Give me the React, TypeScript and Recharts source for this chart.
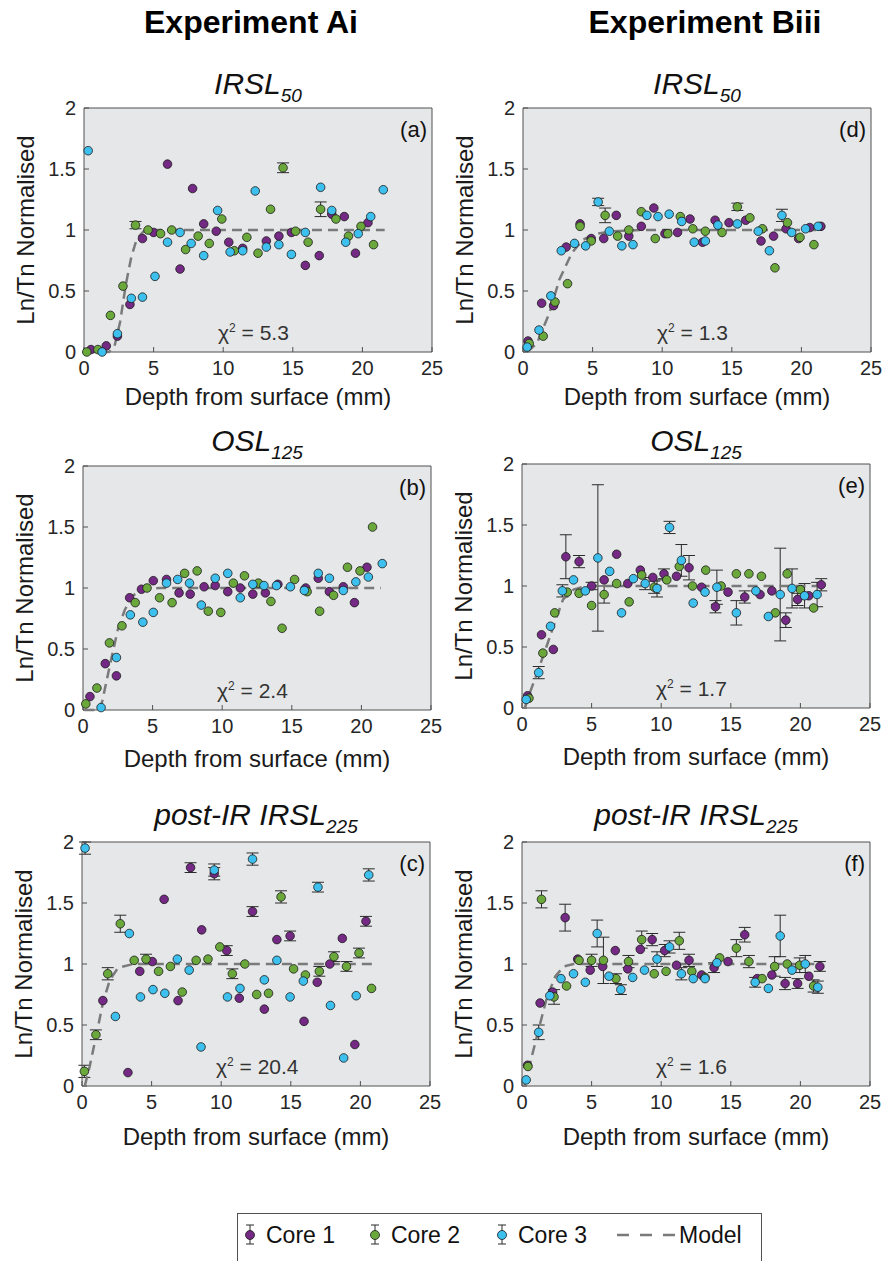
import React from "react";
import { ScatterChart, Scatter, XAxis, YAxis, CartesianGrid, ErrorBar } from "recharts";

// [depth mm, Ln/Tn normalised, error]
type Pt = [number, number, number?];

// Experiment Ai - IRSL50
const A_CORE1: Pt[] = [[0.5,0.02],[1.6,0.05],[2.4,0.13],[3.3,0.39],[4.2,0.93],[5.0,0.98],[6.0,1.54],[6.9,0.68],[7.8,1.34],[8.6,1.05],[9.5,0.99],[10.4,0.9],[11.4,0.85],[13.1,0.91],[14.0,0.95],[14.9,0.98],[15.9,0.71],[16.9,0.79],[17.8,1.13],[18.7,1.11],[19.5,0.81],[20.4,1.06]];
const A_CORE2: Pt[] = [[0.2,0.0],[1.0,0.02],[1.9,0.3],[2.8,0.54],[3.7,1.04,0.03],[4.6,1.0],[5.5,0.97],[6.3,1.0],[7.3,0.84],[8.2,0.95],[9.0,0.89],[9.9,1.09],[10.8,0.83],[11.7,0.94],[12.5,0.81],[13.4,1.17],[14.3,1.51,0.04],[15.2,0.99],[16.1,0.9],[17.0,1.17,0.06],[18.1,1.09],[19.0,0.95],[19.9,1.03],[20.8,0.88]];
const A_CORE3: Pt[] = [[0.3,1.65],[1.3,0.0],[2.4,0.15],[3.4,0.44],[4.2,0.45],[5.1,0.62],[6.0,0.9],[6.9,0.98],[7.7,0.89],[8.6,0.79],[9.6,1.16],[10.5,0.82],[11.4,0.83],[12.3,1.32],[13.1,0.86],[14.0,0.88],[14.9,0.8],[15.9,0.98],[17.0,1.35],[17.8,1.16],[18.8,0.9],[19.7,0.97],[20.6,1.11],[21.5,1.33]];
const A_MODEL: Pt[] = [[0.1,0],[1.8,0],[2.2,0.05],[2.6,0.25],[3.0,0.55],[3.4,0.78],[3.8,0.93],[4.3,0.99],[5.0,1],[21.6,1]];

// Experiment Ai - OSL125
const B_CORE1: Pt[] = [[0.5,0.11],[1.6,0.38],[2.4,0.28],[3.35,0.92],[4.2,0.99],[5.05,1.06],[6.0,1.07],[6.9,0.96],[7.7,0.95],[8.7,1.01],[9.5,1.02],[10.4,0.97],[11.3,1.0],[12.2,0.95],[13.1,0.96],[14.0,1.03],[16.0,1.0],[16.9,1.08],[17.7,0.97],[18.7,1.01],[19.5,0.88],[20.4,1.17]];
const B_CORE2: Pt[] = [[0.2,0.05],[1.0,0.18],[1.9,0.55],[2.8,0.69],[3.75,0.88],[4.6,1.0],[5.5,0.92],[6.4,0.88],[7.3,1.12],[8.2,1.14],[9.0,0.81],[9.9,0.8],[10.8,1.04],[11.6,1.1],[12.6,1.04],[13.5,0.89],[14.3,0.67],[15.2,1.07],[16.1,0.97],[17.0,0.81],[18.0,0.94],[19.0,1.17],[19.9,1.14],[20.8,1.5]];
const B_CORE3: Pt[] = [[1.3,0.02],[2.4,0.43],[3.4,0.78],[4.3,0.72],[5.05,0.8],[6.0,1.04],[6.8,1.07],[7.65,1.04],[8.5,0.86],[9.5,1.08],[10.4,1.12],[11.3,0.92],[12.2,1.03],[13.0,1.02],[13.9,1.02],[14.9,1.01],[15.9,0.98],[16.9,1.12],[17.7,1.08],[18.7,0.98],[19.6,1.05],[20.5,1.09],[21.5,1.2]];
const B_MODEL: Pt[] = [[0.1,0],[1.2,0],[1.4,0.08],[1.9,0.35],[2.5,0.66],[3.0,0.82],[3.6,0.94],[4.5,0.99],[5.5,1],[21.4,1]];

// Experiment Ai - post-IR IRSL225
const C_CORE1: Pt[] = [[1.5,0.7],[3.3,0.11],[4.15,0.94],[5.05,1.02],[5.9,1.53],[6.9,0.7],[7.8,1.79,0.04],[8.6,1.28],[9.5,1.74,0.05],[10.4,1.11,0.04],[11.3,0.72],[12.25,1.43,0.04],[13.1,0.63],[14.0,1.2],[14.95,1.23,0.04],[15.95,0.53],[16.9,0.85],[17.8,1.0],[18.7,1.21],[19.6,0.34],[20.4,1.35,0.04]];
const C_CORE2: Pt[] = [[0.17,0.12,0.05],[1.0,0.42,0.04],[1.85,0.92,0.05],[2.75,1.33,0.07],[3.75,1.03],[4.6,1.04,0.04],[5.5,0.94],[6.35,0.98],[7.2,0.77],[8.2,1.03],[9.05,1.04],[9.9,1.14],[10.8,0.92,0.04],[11.7,1.0],[12.55,0.75],[13.4,0.76],[14.3,1.55,0.05],[15.2,0.96],[16.05,0.91],[17.05,0.94,0.04],[18.1,1.06,0.04],[19.0,0.98,0.04],[19.9,1.09,0.04],[20.8,0.8]];
const C_CORE3: Pt[] = [[0.22,1.95,0.05],[2.4,0.57],[3.4,1.25],[4.2,0.73],[5.1,0.79],[5.95,0.76],[6.85,1.04],[7.7,0.95],[8.55,0.32],[9.5,1.77,0.05],[10.45,0.73],[11.35,0.8],[12.25,1.86,0.05],[13.1,0.87],[14.0,1.03],[14.95,0.73],[15.9,0.86],[16.95,1.63,0.04],[17.85,0.66],[18.8,0.23],[19.7,0.74],[20.6,1.73,0.05]];
const C_MODEL: Pt[] = [[0.2,0],[0.55,0.16],[1.0,0.4],[1.5,0.68],[2.0,0.87],[2.6,0.97],[3.7,1.0],[20.85,1.0]];

// Experiment Biii - IRSL50
const D_CORE1: Pt[] = [[0.36,0.09],[1.34,0.4],[2.2,0.38],[3.1,0.86],[4.1,1.05],[4.9,0.93],[5.8,0.93],[6.7,1.12],[7.6,0.95],[8.5,1.03],[9.4,1.18],[10.2,0.97],[11.1,0.98],[12.0,1.09],[12.9,0.9],[13.8,1.08],[14.8,1.06],[16.0,1.08],[17.1,0.91],[18.0,0.95],[18.9,1.01],[19.8,0.93],[20.6,1.02],[21.4,1.03]];
const D_CORE2: Pt[] = [[0.45,0.07],[1.45,0.13],[2.3,0.41],[3.2,0.56],[4.1,1.03],[4.9,0.91],[5.9,1.12,0.06],[6.8,0.95],[7.6,1.0],[8.5,1.15],[9.5,0.93],[10.4,0.97],[11.3,1.11],[12.2,1.01],[13.1,0.99],[14.3,0.98],[15.4,1.19,0.03],[16.3,1.1],[17.2,1.01],[18.1,0.69],[19.0,1.06],[19.9,0.94],[20.9,0.88]];
const D_CORE3: Pt[] = [[0.3,0.04],[1.15,0.18],[2.0,0.46],[2.75,0.83],[3.7,0.89],[4.5,0.87],[5.4,1.23,0.03],[6.2,0.99],[7.1,0.87],[7.9,0.88],[8.9,1.12],[9.7,1.11],[10.5,1.13],[11.4,1.07],[12.3,0.9],[13.1,0.91],[14.0,1.04],[15.4,1.05],[16.9,0.99],[17.7,0.83],[18.6,1.12,0.05],[19.3,0.98],[20.3,1.01],[21.2,1.03]];
const D_MODEL: Pt[] = [[0.3,0],[1.0,0.07],[1.9,0.32],[2.6,0.59],[3.5,0.81],[4.3,0.92],[5.3,0.97],[6.5,0.99],[8.4,1.0],[21.4,1.0]];

// Experiment Biii - OSL125
const E_CORE1: Pt[] = [[0.4,0.1],[1.4,0.6],[2.25,0.48],[3.15,1.24,0.18],[4.1,1.2,0.05],[5.0,1.0,0.03],[5.9,1.05],[6.8,1.26],[7.6,1.02],[8.5,1.13],[9.4,1.07],[10.2,1.1,0.04],[11.1,1.08],[12.0,1.15,0.1],[12.9,0.99],[13.9,0.83,0.05],[14.8,0.95],[16.0,0.91,0.05],[17.1,0.93],[17.95,0.96],[18.95,0.72,0.06],[19.8,0.89,0.05],[20.6,0.92],[21.5,1.01,0.05]];
const E_CORE2: Pt[] = [[0.5,0.08],[1.5,0.45],[2.35,0.78],[3.25,0.95],[4.1,0.94],[5.0,0.84],[5.9,0.93,0.07],[6.8,1.02],[7.7,0.87],[8.6,1.09],[9.5,0.99,0.05],[10.4,1.05],[11.3,1.16],[12.25,1.0],[13.2,1.13],[14.3,1.0],[15.4,1.1],[16.3,1.1],[17.2,1.08],[18.2,0.78],[19.05,1.1],[20.0,0.97],[20.95,0.82]];
const E_CORE3: Pt[] = [[0.3,0.07],[1.2,0.29,0.05],[2.05,0.67],[2.9,0.96,0.05],[3.7,1.05],[4.55,0.96],[5.45,1.23,0.6],[6.3,1.12],[7.15,0.78],[8.0,1.06],[8.85,1.02,0.05],[9.7,0.98,0.07],[10.6,1.48,0.05],[11.45,1.21,0.13],[12.3,0.86],[13.15,0.95],[14.0,0.99,0.14],[15.4,0.78,0.1],[16.8,0.96],[17.7,0.75],[18.55,0.93,0.38],[19.4,0.98,0.16],[20.3,0.92,0.1],[21.2,0.93,0.1]];
const E_MODEL: Pt[] = [[0.2,0],[0.55,0.12],[1.0,0.26],[1.75,0.5],[2.35,0.7],[2.95,0.89],[3.7,0.97],[4.6,1.0],[21.3,1.0]];

// Experiment Biii - post-IR IRSL225
const F_CORE1: Pt[] = [[0.4,0.17],[1.3,0.68],[2.2,0.77],[3.1,1.38,0.11],[4.0,1.04],[4.9,0.95],[5.8,0.98],[6.7,1.11],[7.6,0.96],[8.5,1.12],[9.35,1.2,0.05],[10.25,1.11,0.05],[11.1,0.99],[12.0,1.03,0.05],[12.9,0.91],[13.8,0.97,0.04],[14.8,1.02],[16.0,1.24,0.06],[16.9,0.88],[17.95,0.91],[18.9,0.84,0.05],[19.8,0.84,0.04],[20.6,0.9],[21.4,0.98,0.04]];
const F_CORE2: Pt[] = [[0.43,0.16],[1.4,1.53,0.07],[2.3,0.73,0.06],[3.2,0.82],[4.1,1.03],[5.0,1.03,0.05],[5.85,1.03,0.19],[6.75,0.88,0.04],[7.65,1.02,0.05],[8.6,1.2,0.07],[9.5,0.92],[10.35,0.94],[11.3,1.19,0.07],[12.2,0.94],[13.15,0.89],[14.2,1.05],[15.4,1.13,0.07],[16.3,1.02,0.05],[17.25,0.88],[18.15,0.98,0.08],[19.05,1.0],[19.95,0.99,0.06],[20.95,0.82,0.05]];
const F_CORE3: Pt[] = [[0.3,0.05],[1.2,0.44,0.06],[2.0,0.74],[2.8,0.88],[3.7,0.92],[4.55,0.85],[5.4,1.25,0.11],[6.25,0.9],[7.1,0.79,0.04],[7.95,0.89],[8.8,0.95],[9.7,1.04,0.06],[10.6,1.14,0.05],[11.45,0.92,0.05],[12.3,0.88],[13.15,0.88],[14.0,1.01],[16.75,0.85,0.04],[17.7,0.8],[18.55,1.23,0.17],[19.4,0.95],[20.35,1.0,0.07],[21.25,0.81,0.05]];
const F_MODEL: Pt[] = [[0.17,0],[0.7,0.24],[1.3,0.51],[1.8,0.73],[2.4,0.9],[3.0,0.98],[3.7,1.0],[21.5,1.0]];

const X_TICKS = [0, 5, 10, 15, 20, 25];
const Y_TICKS = [0, 0.5, 1, 1.5, 2];

const CORE1 = "#742a84";
const CORE2 = "#6aa83c";
const CORE3 = "#3dc0ee";
const MODEL = "#7a7a7a";
const BG = "#e6e7e8";
const AXIS = "#505050";
const FONT = '"Liberation Sans", Arial, Helvetica, sans-serif';

const PLOT_W = 348;
const PLOT_H = 244;
const ML = 10;
const YW = 74;
const MT = 50;
const XH = 66;
const CHART_W = ML + YW + PLOT_W + 1 + 20;
const CHART_H = MT + 1 + PLOT_H + XH;

const rows = (pts: Pt[]) => pts.map(([x, y, e]) => ({ x, y, err: e ?? 0 }));

const dot = (color: string) => (props: any) =>
  <circle cx={props.cx} cy={props.cy} r={4.3} fill={color} stroke="#1b1b1b" strokeWidth={0.8} />;

interface PanelProps {
  left: number; // plot area left (page px)
  top: number; // plot area top (page px)
  title: string;
  sub: string;
  letter: string;
  chi: string;
  titleGap: number;
  labelGap: number;
  core1: Pt[];
  core2: Pt[];
  core3: Pt[];
  model: Pt[];
}

function Panel(p: PanelProps) {
  const x0 = p.left - ML - YW;
  const y0 = p.top - MT - 1;
  const pl = ML + YW;
  const pt = MT + 1;
  const tickStyle = { fill: "#262626", fontSize: 20, fontFamily: FONT };
  const cores: [Pt[], string][] = [[p.core1, CORE1], [p.core2, CORE2], [p.core3, CORE3]];

  return (
    <div style={{ position: "absolute", left: x0, top: y0, width: CHART_W, height: CHART_H }}>
      <ScatterChart width={CHART_W} height={CHART_H} margin={{ top: MT, right: 20, bottom: 0, left: ML }}>
        <CartesianGrid fill={BG} stroke="none" />
        <XAxis
          dataKey="x"
          type="number"
          domain={[0, 25]}
          ticks={X_TICKS}
          height={XH}
          tickSize={-5}
          tickMargin={14}
          tick={tickStyle}
          stroke={AXIS}
          label={{
            value: "Depth from surface (mm)",
            position: "insideBottom",
            offset: XH - p.labelGap,
            fill: "#1a1a1a",
            fontSize: 24,
            fontFamily: FONT,
          }}
        />
        <XAxis
          xAxisId="top"
          orientation="top"
          type="number"
          domain={[0, 25]}
          ticks={X_TICKS}
          height={1}
          tickSize={-5}
          tickFormatter={() => ""}
          stroke={AXIS}
        />
        <YAxis
          dataKey="y"
          type="number"
          domain={[0, 2]}
          ticks={Y_TICKS}
          width={YW}
          tickSize={-5}
          tickMargin={13}
          tick={tickStyle}
          stroke={AXIS}
          label={{
            value: "Ln/Tn Normalised",
            angle: -90,
            position: "insideLeft",
            offset: 15,
            style: { textAnchor: "middle" },
            fill: "#1a1a1a",
            fontSize: 24,
            fontFamily: FONT,
          }}
        />
        <YAxis
          yAxisId="right"
          orientation="right"
          type="number"
          domain={[0, 2]}
          ticks={Y_TICKS}
          width={1}
          tickSize={-5}
          tickFormatter={() => ""}
          stroke={AXIS}
        />
        <Scatter
          data={rows(p.model)}
          line={{ stroke: MODEL, strokeWidth: 2.5, strokeDasharray: "10 6" }}
          shape={() => <g />}
          isAnimationActive={false}
        />
        {cores.map(([pts, color], i) => (
          <Scatter key={i} data={rows(pts)} fill={color} shape={dot(color)} isAnimationActive={false}>
            <ErrorBar dataKey="err" direction="y" width={6} stroke="#2b2b2b" strokeWidth={1} />
          </Scatter>
        ))}
      </ScatterChart>
      <svg
        width={CHART_W}
        height={CHART_H}
        style={{ position: "absolute", left: 0, top: 0, pointerEvents: "none", overflow: "visible" }}
      >
        <text x={pl + PLOT_W / 2} y={pt - p.titleGap} textAnchor="middle" fontFamily={FONT} fontStyle="italic" fontSize={30} fill="#111">
          {p.title}
          <tspan dy={8} fontSize={19}>{p.sub}</tspan>
        </text>
        <text x={pl + PLOT_W - 5} y={pt + 29} textAnchor="end" fontFamily={FONT} fontSize={22} fill="#111">
          {p.letter}
        </text>
        <text x={pl + 134} y={pt + PLOT_H - 12} fontFamily={FONT} fontSize={21} fill="#333">
          χ<tspan dy={-8} fontSize={12}>2</tspan>
          <tspan dy={8}> = {p.chi}</tspan>
        </text>
      </svg>
    </div>
  );
}

function LegendBox() {
  const items: [string, string, number][] = [[CORE1, "Core 1", 250], [CORE2, "Core 2", 375], [CORE3, "Core 3", 502]];
  return (
    <svg width={886} height={61} style={{ position: "absolute", left: 0, top: 1200 }}>
      <rect x={237.5} y={13.5} width={524} height={60} fill="#fff" stroke={AXIS} strokeWidth={1} />
      {items.map(([color, name, cx]) => (
        <g key={name}>
          <line x1={cx} x2={cx} y1={25} y2={44} stroke="#2b2b2b" strokeWidth={1} />
          <line x1={cx - 4} x2={cx + 4} y1={25} y2={25} stroke="#2b2b2b" strokeWidth={1} />
          <line x1={cx - 4} x2={cx + 4} y1={44} y2={44} stroke="#2b2b2b" strokeWidth={1} />
          <circle cx={cx} cy={35} r={4.5} fill={color} stroke="#1b1b1b" strokeWidth={0.8} />
          <text x={cx + 16} y={43} fontFamily={FONT} fontSize={23} fill="#111">{name}</text>
        </g>
      ))}
      <line x1={617} x2={675} y1={35} y2={35} stroke={MODEL} strokeWidth={2.5} strokeDasharray="12 11" />
      <text x={679} y={43} fontFamily={FONT} fontSize={23} fill="#111">Model</text>
    </svg>
  );
}

export default function App() {
  return (
    <div
      style={{
        position: "absolute",
        left: 0,
        top: 0,
        width: 886,
        height: 1261,
        overflow: "hidden",
        background: "#fff",
        fontFamily: FONT,
      }}
    >
      <svg width={886} height={50} style={{ position: "absolute", left: 0, top: 0 }}>
        <text x={251} y={33} textAnchor="middle" fontFamily={FONT} fontWeight="bold" fontSize={32} fill="#000">Experiment Ai</text>
        <text x={705} y={33} textAnchor="middle" fontFamily={FONT} fontWeight="bold" fontSize={32} fill="#000">Experiment Biii</text>
      </svg>
      <Panel left={84} top={108} title="IRSL" sub="50" letter="(a)" chi="5.3" titleGap={14} labelGap={53}
        core1={A_CORE1} core2={A_CORE2} core3={A_CORE3} model={A_MODEL} />
      <Panel left={83} top={466} title="OSL" sub="125" letter="(b)" chi="2.4" titleGap={15} labelGap={57}
        core1={B_CORE1} core2={B_CORE2} core3={B_CORE3} model={B_MODEL} />
      <Panel left={82} top={842} title="post-IR IRSL" sub="225" letter="(c)" chi="20.4" titleGap={17} labelGap={59}
        core1={C_CORE1} core2={C_CORE2} core3={C_CORE3} model={C_MODEL} />
      <Panel left={523} top={108} title="IRSL" sub="50" letter="(d)" chi="1.3" titleGap={14} labelGap={53}
        core1={D_CORE1} core2={D_CORE2} core3={D_CORE3} model={D_MODEL} />
      <Panel left={522} top={464} title="OSL" sub="125" letter="(e)" chi="1.7" titleGap={13} labelGap={57}
        core1={E_CORE1} core2={E_CORE2} core3={E_CORE3} model={E_MODEL} />
      <Panel left={522} top={842} title="post-IR IRSL" sub="225" letter="(f)" chi="1.6" titleGap={17} labelGap={59}
        core1={F_CORE1} core2={F_CORE2} core3={F_CORE3} model={F_MODEL} />
      <LegendBox />
    </div>
  );
}
